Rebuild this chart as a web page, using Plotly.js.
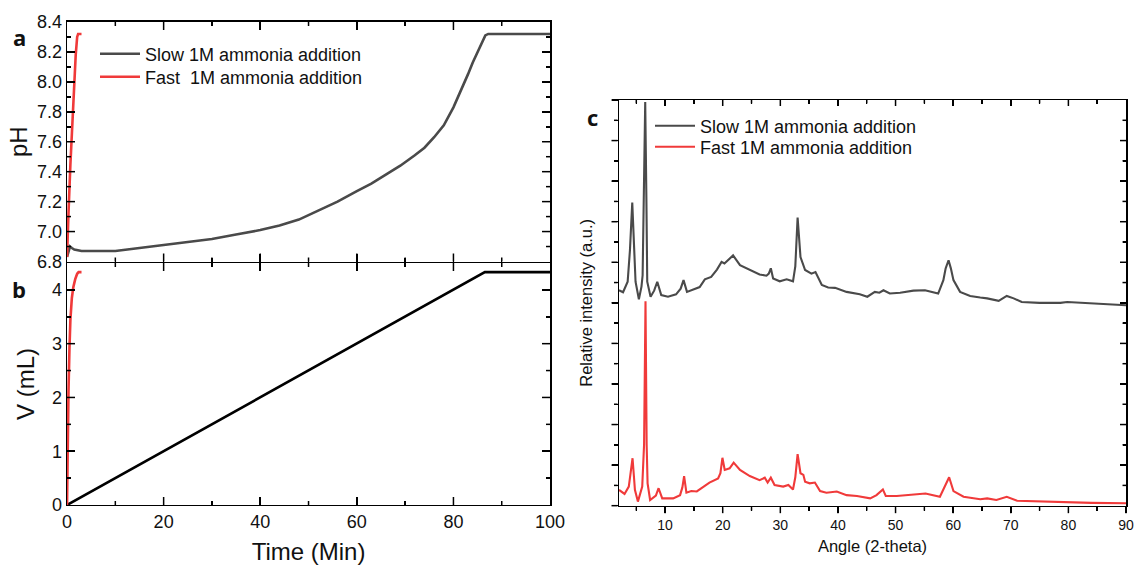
<!DOCTYPE html>
<html>
<head>
<meta charset="utf-8">
<script src="https://cdn.plot.ly/plotly-3.0.1.min.js"></script>
<style>html,body{margin:0;padding:0;background:#fff;}#chart{width:1136px;height:565px;}</style>
</head>
<body>
<div id="chart"></div>
<script>
// ---- Panel a: pH vs time (min) ----
const slowPH_t = [0, 0.3, 0.6, 1, 1.5, 3, 6, 10, 15, 20, 25, 30, 35, 40, 44, 48, 52, 56, 60, 63, 66, 69, 72, 74, 76, 78, 80, 81, 82, 83, 84, 85, 86, 86.6, 87.2, 90, 95, 100];
const slowPH   = [6.83, 6.87, 6.90, 6.89, 6.88, 6.87, 6.87, 6.87, 6.89, 6.91, 6.93, 6.95, 6.98, 7.01, 7.04, 7.08, 7.14, 7.20, 7.27, 7.32, 7.38, 7.44, 7.51, 7.56, 7.63, 7.71, 7.83, 7.90, 7.97, 8.05, 8.13, 8.20, 8.27, 8.31, 8.32, 8.32, 8.32, 8.32];
const fastPH_t = [0, 0.1, 0.3, 0.7, 1.0, 1.4, 1.8, 2.1, 2.3, 3.0];
const fastPH   = [6.83, 6.95, 7.12, 7.45, 7.66, 7.93, 8.18, 8.30, 8.32, 8.32];

// ---- Panel b: volume added (mL) vs time (min) ----
const slowV_t = [0, 46, 86.5, 100];
const slowV   = [0, 2.30, 4.33, 4.33];
const fastV_t = [0, 0.05, 0.15, 0.3, 0.5, 0.7, 1.0, 1.3, 1.7, 2.1, 2.4, 3.0];
const fastV   = [0, 0.6, 1.5, 2.1, 2.9, 3.45, 3.85, 4.05, 4.2, 4.3, 4.33, 4.33];

// ---- Panel c: XRD patterns (relative intensity, offset) ----
const xrdAngleSlow = [2.0, 2.7, 3.5, 3.9, 4.3, 4.6, 4.87, 5.45, 5.9, 6.1, 6.3, 6.55, 6.75, 6.9, 7.48, 8.1, 8.64, 9.33, 10.5, 11.9, 12.7, 13.2, 13.8, 14.55, 16.0, 16.9, 18.0, 19.0, 19.8, 20.3, 21.0, 21.8, 23.0, 24.7, 26.4, 27.6, 28.0, 28.35, 28.75, 29.9, 31.1, 32.2, 32.6, 33.0, 33.5, 34.3, 35.4, 36.1, 37.2, 38.3, 39.5, 41.5, 43.8, 45.1, 46.4, 47.2, 47.9, 49.0, 50.8, 53.1, 55.1, 57.4, 58.3, 58.7, 59.2, 59.6, 60.05, 61.2, 62.95, 64.7, 65.9, 67.9, 69.3, 70.5, 71.9, 75.0, 78.6, 79.8, 84.4, 90];
const xrdSlow      = [5.31, 5.26, 5.52, 6.3, 7.47, 6.4, 5.52, 5.09, 5.4, 5.68, 7.5, 9.95, 7.6, 5.52, 5.15, 5.3, 5.52, 5.19, 5.15, 5.21, 5.35, 5.56, 5.27, 5.31, 5.39, 5.58, 5.64, 5.82, 6.01, 5.97, 6.07, 6.17, 5.93, 5.81, 5.70, 5.67, 5.72, 5.85, 5.60, 5.53, 5.58, 5.53, 5.9, 7.10, 6.13, 5.81, 5.72, 5.76, 5.44, 5.38, 5.37, 5.27, 5.21, 5.15, 5.27, 5.25, 5.31, 5.23, 5.25, 5.30, 5.31, 5.23, 5.56, 5.85, 6.05, 5.85, 5.56, 5.27, 5.17, 5.13, 5.11, 5.05, 5.17, 5.11, 5.02, 5.00, 5.00, 5.02, 4.98, 4.94];
const xrdAngleFast = [2.0, 2.96, 3.7, 4.05, 4.35, 4.6, 4.76, 5.28, 6.03, 6.35, 6.6, 6.8, 6.96, 7.4, 8.4, 8.87, 9.5, 11.4, 12.6, 13.0, 13.3, 13.7, 14.55, 15.5, 16.6, 17.7, 19.2, 19.6, 19.95, 20.35, 21.2, 21.9, 23.0, 24.7, 26.4, 27.3, 27.8, 28.35, 29.0, 30.5, 31.4, 32.2, 32.6, 33.0, 33.5, 34.0, 34.3, 35.1, 36.0, 36.9, 38.0, 39.8, 41.5, 43.3, 45.6, 46.7, 47.8, 48.3, 50.2, 53.1, 55.2, 57.7, 58.6, 59.3, 60.05, 61.8, 64.7, 65.9, 67.5, 69.3, 71.1, 75, 78.6, 79.8, 84, 90];
const xrdFast      = [0.39, 0.29, 0.47, 0.8, 1.17, 0.7, 0.39, 0.10, 0.47, 1.5, 5.04, 1.5, 0.55, 0.14, 0.25, 0.43, 0.18, 0.18, 0.26, 0.45, 0.73, 0.32, 0.36, 0.35, 0.47, 0.57, 0.67, 0.8, 1.18, 0.88, 0.92, 1.06, 0.88, 0.73, 0.63, 0.69, 0.57, 0.69, 0.51, 0.47, 0.51, 0.40, 0.7, 1.27, 0.80, 0.76, 0.59, 0.55, 0.57, 0.36, 0.32, 0.35, 0.26, 0.24, 0.18, 0.26, 0.40, 0.24, 0.24, 0.28, 0.30, 0.22, 0.47, 0.70, 0.36, 0.22, 0.16, 0.18, 0.14, 0.22, 0.12, 0.10, 0.08, 0.09, 0.07, 0.06];

const names = {slow: 'Slow 1M ammonia addition', fastA: 'Fast\u00a0 1M ammonia addition', fastC: 'Fast 1M ammonia addition'};
const GRAY = '#4a4a4a', RED = '#f03a3a';
const FONT = 'Liberation Sans, Arial, sans-serif';

const traces = [
  {x: slowPH_t, y: slowPH, xaxis: 'x', yaxis: 'y', mode: 'lines', name: names.slow, line: {color: GRAY, width: 2.6}, legend: 'legend'},
  {x: fastPH_t, y: fastPH, xaxis: 'x', yaxis: 'y', mode: 'lines', name: names.fastA, line: {color: RED, width: 2.6}, legend: 'legend2'},
  {x: slowV_t, y: slowV, xaxis: 'x2', yaxis: 'y2', mode: 'lines', showlegend: false, line: {color: '#000', width: 2.6}},
  {x: fastV_t, y: fastV, xaxis: 'x2', yaxis: 'y2', mode: 'lines', showlegend: false, line: {color: RED, width: 2.6}},
  {x: xrdAngleSlow, y: xrdSlow, xaxis: 'x3', yaxis: 'y3', mode: 'lines', name: names.slow, line: {color: GRAY, width: 2.1}, legend: 'legend3'},
  {x: xrdAngleFast, y: xrdFast, xaxis: 'x3', yaxis: 'y3', mode: 'lines', name: names.fastC, line: {color: RED, width: 2.1}, legend: 'legend4'},
  {x: [null], y: [null], xaxis: 'x4', yaxis: 'y4', mode: 'lines', showlegend: false, hoverinfo: 'skip'}
];

const axBase = {showline: true, linecolor: '#000', linewidth: 1.5, showgrid: false, zeroline: false, automargin: false,
  tickfont: {family: FONT, size: 18, color: '#111'}, tickcolor: '#000', tickwidth: 1.5};
const minorA = function (d, len) { return {dtick: d, ticks: 'inside', ticklen: len, tickcolor: '#000', tickwidth: 1.5}; };
const minorO = function (d, len) { return {dtick: d, ticks: 'outside', ticklen: len, tickcolor: '#000', tickwidth: 1.5}; };

const yA = 1 - 261.5 / 565;
const legBase = {xanchor: 'left', yanchor: 'middle', bgcolor: 'rgba(0,0,0,0)', borderwidth: 0,
  font: {family: FONT, size: 18, color: '#111'}, itemwidth: 40};
const letterFont = {family: 'Open Sans, sans-serif', size: 22, color: '#111'};

const layout = {
  width: 1136, height: 565,
  margin: {l: 0, r: 0, t: 0, b: 0},
  paper_bgcolor: '#fff', plot_bgcolor: 'rgba(0,0,0,0)',
  font: {family: FONT, color: '#111'},
  showlegend: true,
  xaxis: Object.assign({}, axBase, {domain: [0.059, 0.4842], anchor: 'y', range: [0, 100], dtick: 20, tick0: 0,
    ticks: 'inside', ticklen: 8, mirror: 'ticks', showticklabels: false, minor: minorA(10, 4)}),
  yaxis: Object.assign({}, axBase, {domain: [yA, 0.9611], anchor: 'x', range: [6.8, 8.4], dtick: 0.2, tick0: 6.8, tickformat: '.1f',
    ticks: 'inside', ticklen: 8, mirror: 'ticks', minor: minorA(0.1, 4),
    title: {text: 'pH', font: {family: FONT, size: 24, color: '#111'}, standoff: 2}}),
  xaxis2: Object.assign({}, axBase, {domain: [0.059, 0.4842], anchor: 'y2', range: [0, 100], dtick: 20, tick0: 0,
    ticks: 'inside', ticklen: 8, mirror: 'ticks', minor: minorA(10, 4),
    title: {text: 'Time (Min)', font: {family: FONT, size: 24, color: '#111'}, standoff: 12}}),
  yaxis2: Object.assign({}, axBase, {domain: [0.1062, 0.5345], anchor: 'x2', range: [0, 4.5], dtick: 1, tick0: 0,
    ticks: 'inside', ticklen: 8, mirror: 'ticks', minor: minorA(0.5, 4),
    title: {text: 'V (mL)', font: {family: FONT, size: 24, color: '#111'}, standoff: 10}}),
  xaxis3: Object.assign({}, axBase, {domain: [0.5449, 0.9912], anchor: 'y3', range: [2, 90], dtick: 10, tick0: 0,
    ticks: 'outside', ticklen: 6, tickfont: {family: FONT, size: 14, color: '#111'}, minor: minorO(5, 3.5),
    title: {text: 'Angle (2-theta)', font: {family: FONT, size: 16.5, color: '#111'}, standoff: 8}}),
  yaxis3: Object.assign({}, axBase, {domain: [0.105, 0.823], anchor: 'x3', range: [0, 10], dtick: 1, tick0: 0,
    ticks: 'outside', ticklen: 6, showticklabels: false, minor: minorO(0.5, 3.5),
    title: {text: 'Relative intensity (a.u.)', font: {family: FONT, size: 16.5, color: '#111'}, standoff: 14}}),
  xaxis4: Object.assign({}, axBase, {overlaying: 'x3', side: 'top', anchor: 'y3', range: [2, 90], dtick: 10, tick0: 0,
    ticks: 'inside', ticklen: 6, showticklabels: false, minor: minorA(5, 3.5)}),
  yaxis4: Object.assign({}, axBase, {overlaying: 'y3', side: 'right', anchor: 'x3', range: [0, 10], dtick: 1, tick0: 0,
    ticks: 'inside', ticklen: 6, showticklabels: false, minor: minorA(0.5, 3.5)}),
  legend:  Object.assign({}, legBase, {x: 95 / 1136, y: 1 - 54 / 565}),
  legend2: Object.assign({}, legBase, {x: 95 / 1136, y: 1 - 77 / 565}),
  legend3: Object.assign({}, legBase, {x: 650 / 1136, y: 1 - 126 / 565}),
  legend4: Object.assign({}, legBase, {x: 650 / 1136, y: 1 - 147 / 565}),
  annotations: [
    {text: '<b>a</b>', x: 19 / 1136, y: 1 - 37 / 565, xanchor: 'center', yanchor: 'middle', xref: 'paper', yref: 'paper', showarrow: false, font: letterFont},
    {text: '<b>b</b>', x: 19 / 1136, y: 1 - 289 / 565, xanchor: 'center', yanchor: 'middle', xref: 'paper', yref: 'paper', showarrow: false, font: letterFont},
    {text: '<b>c</b>', x: 592 / 1136, y: 1 - 117 / 565, xanchor: 'center', yanchor: 'middle', xref: 'paper', yref: 'paper', showarrow: false, font: letterFont}
  ]
};

Plotly.newPlot('chart', traces, layout, {staticPlot: true, displayModeBar: false}).then(function () {
  // Re-paint Plotly's own tick marks (positions taken from the rendered axes) as plain SVG lines on the top layer.
  var NS = 'http://www.w3.org/2000/svg';
  var svgs = document.querySelectorAll('svg.main-svg');
  var top = svgs[svgs.length - 1];
  var g = document.createElementNS(NS, 'g');
  top.appendChild(g);
  document.querySelectorAll('path.ticks').forEach(function (p) {
    var tr = (p.getAttribute('transform') || '').match(/translate\(([-\d.e]+)[ ,]*([-\d.e]*)\)/);
    var ox = tr ? parseFloat(tr[1]) : 0, oy = tr && tr[2] ? parseFloat(tr[2]) : 0;
    var d = p.getAttribute('d') || '';
    var re = /M([-\d.e]+),([-\d.e]+)([vhVH])([-\d.e]+)/g, m;
    var col = p.style.stroke || '#000';
    var w = p.style.strokeWidth || '1.5px';
    while ((m = re.exec(d)) !== null) {
      var x1 = ox + parseFloat(m[1]), y1 = oy + parseFloat(m[2]);
      var v = parseFloat(m[4]);
      var x2 = x1, y2 = y1;
      if (m[3] === 'v' || m[3] === 'V') { y2 = y1 + v; } else { x2 = x1 + v; }
      var ln = document.createElementNS(NS, 'line');
      ln.setAttribute('x1', x1); ln.setAttribute('y1', y1);
      ln.setAttribute('x2', x2); ln.setAttribute('y2', y2);
      ln.setAttribute('stroke', col);
      ln.setAttribute('stroke-width', parseFloat(w) || 1.5);
      g.appendChild(ln);
    }
  });
});
</script>
</body>
</html>
